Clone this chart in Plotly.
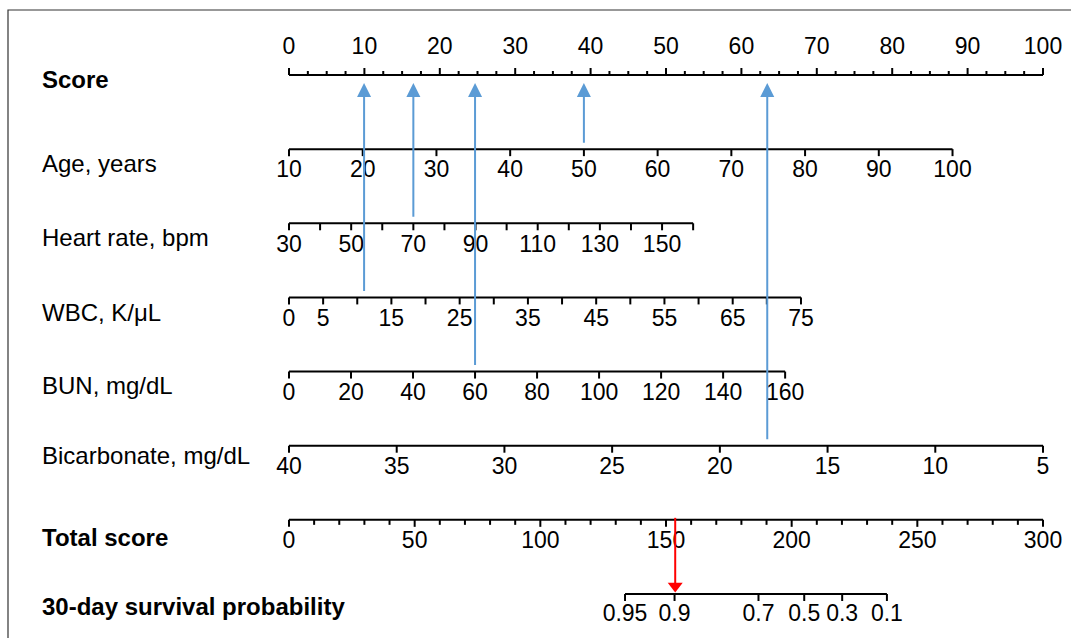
import plotly.graph_objects as go

W, H = 1071, 638

# ---------------- data ----------------
row_names = ["Score", "Age, years", "Heart rate, bpm", "WBC, K/μL", "BUN, mg/dL",
             "Bicarbonate, mg/dL", "Total score", "30-day survival probability"]
row_bold = [True, False, False, False, False, False, True, True]

score_ticks = [i * 2.5 for i in range(41)]
score_labels = list(range(0, 101, 10))

age_ticks = list(range(10, 101, 10))
age_labels = list(range(10, 101, 10))
age_range = (10, 100)
age_max_points = 88.0

hr_ticks = list(range(30, 161, 10))
hr_labels = [30, 50, 70, 90, 110, 130, 150]
hr_range = (30, 160)
hr_max_points = 53.6

wbc_ticks = list(range(0, 76, 5))
wbc_labels = [0, 5, 15, 25, 35, 45, 55, 65, 75]
wbc_range = (0, 75)
wbc_max_points = 67.9

bun_ticks = list(range(0, 161, 20))
bun_labels = list(range(0, 161, 20))
bun_range = (0, 160)
bun_max_points = 65.8

bic_ticks = list(range(40, 4, -5))
bic_labels = list(range(40, 4, -5))
bic_range = (40, 5)
bic_max_points = 100.0

total_ticks = list(range(0, 301, 10))
total_labels = list(range(0, 301, 50))
total_max = 300

surv_labels = ["0.95", "0.9", "0.7", "0.5", "0.3", "0.1"]
surv_total_points = [133.7, 153.4, 186.8, 205.0, 220.1, 237.9]

# example patient
patient_age = 50
patient_hr = 70
patient_wbc = 11
patient_bun = 60
patient_bic = 17.8

# ---------------- layout helpers ----------------
FONT = "Arial, Liberation Sans, sans-serif"
ROW0_PX = 75.0
PX_PER_ROW = 74.14
X0_PX, X100_PX = 289.0, 1043.0
PX_PER_PT = (X100_PX - X0_PX) / 100.0


def px(n):
    """convert a pixel distance into row units"""
    return n / PX_PER_ROW


def pts(v, rng, pmax):
    lo, hi = rng
    return (v - lo) / (hi - lo) * pmax


segs_x, segs_y = [], []


def seg(x0, y0, x1, y1):
    segs_x.extend([x0, x1, None])
    segs_y.extend([y0, y1, None])


text_x, text_y, text_s = [], [], []


def label(x, y, s):
    text_x.append(x)
    text_y.append(y)
    text_s.append(str(s))


# score axis (row 0), ticks up, labels above
seg(0, 0, 100, 0)
for t in score_ticks:
    major = abs(t % 10) < 1e-9
    seg(t, 0, t, -px(7 if major else 4))
for t in score_labels:
    label(t, -px(27), t)


def variable_axis(row, ticks, labels, rng, pmax, tlen=7):
    xs = [pts(t, rng, pmax) for t in ticks]
    seg(min(xs), row, max(xs), row)
    for x in xs:
        seg(x, row, x, row + px(tlen))
    for l in labels:
        label(pts(l, rng, pmax), row + px(22.5), l)


variable_axis(1, age_ticks, age_labels, age_range, age_max_points)
variable_axis(2, hr_ticks, hr_labels, hr_range, hr_max_points)
variable_axis(3, wbc_ticks, wbc_labels, wbc_range, wbc_max_points)
variable_axis(4, bun_ticks, bun_labels, bun_range, bun_max_points)
variable_axis(5, bic_ticks, bic_labels, bic_range, bic_max_points)

# total score axis (row 6)
seg(0, 6, 100, 6)
for t in total_ticks:
    major = t % 50 == 0
    seg(t / total_max * 100, 6, t / total_max * 100, 6 + px(7 if major else 5))
for t in total_labels:
    label(t / total_max * 100, 6 + px(22.5), t)

# survival axis (row 7)
sx = [p / total_max * 100 for p in surv_total_points]
seg(min(sx), 7, max(sx), 7)
for x, l in zip(sx, surv_labels):
    seg(x, 7, x, 7 + px(7))
    label(x, 7 + px(21.5), l)

fig = go.Figure()
fig.add_trace(go.Scatter(x=segs_x, y=segs_y, mode="lines",
                         line=dict(color="#000000", width=2),
                         hoverinfo="skip", showlegend=False))
fig.add_trace(go.Scatter(x=text_x, y=text_y, mode="text", text=text_s,
                         textposition="middle center",
                         textfont=dict(family=FONT, size=23, color="#000000"),
                         hoverinfo="skip", showlegend=False))

# blue arrows from each patient value up to the score axis
patient_points = [
    (1, pts(patient_age, age_range, age_max_points)),
    (2, pts(patient_hr, hr_range, hr_max_points)),
    (3, pts(patient_wbc, wbc_range, wbc_max_points)),
    (4, pts(patient_bun, bun_range, bun_max_points)),
    (5, pts(patient_bic, bic_range, bic_max_points)),
]
annotations = []
for row, p in patient_points:
    annotations.append(dict(
        x=p, y=px(8), ax=p, ay=row - px(5), xref="x", yref="y", axref="x", ayref="y",
        text="", showarrow=True, arrowhead=2, arrowsize=1.4, arrowwidth=2,
        arrowcolor="#5B9BD5", standoff=0, startstandoff=0))

# red arrow: total points (sum of item points, 0-300 scale) down to the survival axis
total_points = sum(p for _, p in patient_points)
tx = total_points / total_max * 100
fig.add_trace(go.Scatter(x=[tx, tx], y=[6 - px(2), 7 - px(10)], mode="lines",
                         line=dict(color="#FF0000", width=2),
                         hoverinfo="skip", showlegend=False))
fig.add_trace(go.Scatter(x=[tx], y=[7 - px(8)], mode="markers",
                         marker=dict(symbol="triangle-down", size=13, color="#FF0000",
                                     line=dict(width=0)),
                         hoverinfo="skip", showlegend=False))

# row titles
row_label_y_px = [79, 163, 237, 312, 385, 455, 537, 606]
for name, bold, ypx in zip(row_names, row_bold, row_label_y_px):
    annotations.append(dict(
        x=40 / W, xref="paper", xanchor="left",
        y=(ypx - ROW0_PX) / PX_PER_ROW, yref="y", yanchor="middle",
        text=f"<b>{name}</b>" if bold else name, showarrow=False,
        font=dict(family=FONT, size=24, color="#000000")))

fig.update_layout(
    width=W, height=H,
    margin=dict(l=0, r=0, t=0, b=0),
    paper_bgcolor="white", plot_bgcolor="white",
    xaxis=dict(range=[-X0_PX / PX_PER_PT, (W - X0_PX) / PX_PER_PT], visible=False, fixedrange=True),
    yaxis=dict(range=[(H - ROW0_PX) / PX_PER_ROW, -ROW0_PX / PX_PER_ROW], visible=False, fixedrange=True),
    annotations=annotations,
    shapes=[dict(type="rect", xref="paper", yref="paper",
                 x0=8 / W, x1=1.02, y0=-0.02, y1=1 - 10 / H,
                 line=dict(color="#333333", width=1.2), fillcolor="rgba(0,0,0,0)")],
    showlegend=False,
)

fig.write_html("out.html")
